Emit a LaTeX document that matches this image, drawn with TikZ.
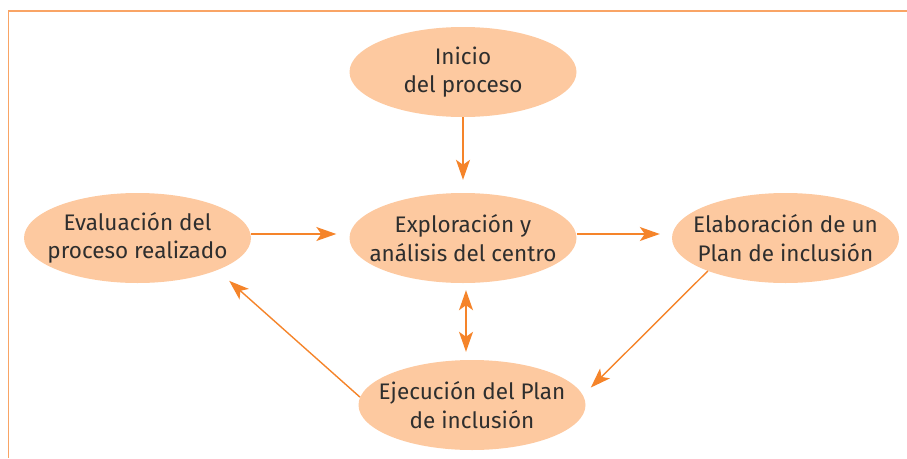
\documentclass[tikz,border=0pt]{standalone}
\usepackage{fontspec}
\setmainfont{Fira Sans}
\usetikzlibrary{shapes.geometric,arrows.meta}
\definecolor{bubfill}{HTML}{FDC9A0}
\definecolor{arr}{HTML}{F5842A}
\definecolor{framec}{HTML}{F9A465}
\definecolor{txt}{HTML}{2E2E2E}
\tikzset{
  bub/.style={ellipse, fill=bubfill, draw=none, minimum width=227pt, minimum height=90pt, inner sep=0pt},
  lab/.style={align=center, text=txt, font=\fontsize{22.5}{28.5}\selectfont},
  conn/.style={draw=arr, line width=1.4pt, -{Stealth[length=20pt,width=14pt,inset=5pt]}},
  dconn/.style={draw=arr, line width=1.4pt, {Stealth[length=20pt,width=14pt,inset=5pt]}-{Stealth[length=20pt,width=14pt,inset=5pt]}}
}
\begin{document}
\begin{tikzpicture}[x=1pt,y=-1pt]
\useasboundingbox (0,0) rectangle (907,458);
\draw[framec, line width=1.8pt] (8.5,458) -- (8.5,11) -- (907,11);

\node[bub, label={[lab]center:Inicio\\del proceso}] (ini) at (463,72) {};
\node[bub, label={[lab]center:Exploración y\\análisis del centro}] (exp) at (463,238) {};
\node[bub, label={[lab]center:Evaluación del\\proceso realizado}] (eva) at (137.5,238) {};
\node[bub, label={[lab]center:Elaboración de un\\Plan de inclusión}] (ela) at (785.5,238) {};
\node[bub, label={[lab]center:Ejecución del Plan\\de inclusión}] (eje) at (472,405) {};

\draw[conn, shorten >=13pt] (ini.south) -- (exp.north);
\draw[conn, shorten >=13pt] ([yshift=4pt]eva.east) -- ([yshift=4pt]exp.west);
\draw[conn, shorten >=12pt] ([yshift=4pt]exp.east) -- ([yshift=4pt]ela.west);
\draw[dconn, shorten <=7pt, shorten >=8pt] ([xshift=3pt]exp.south) -- ([xshift=-6pt]eje.north);
\draw[conn, shorten >=11pt] (ela.203) -- (eje.5);
\draw[conn, shorten >=16pt] (eje.176) -- (eva.-22);
\end{tikzpicture}
\end{document}
